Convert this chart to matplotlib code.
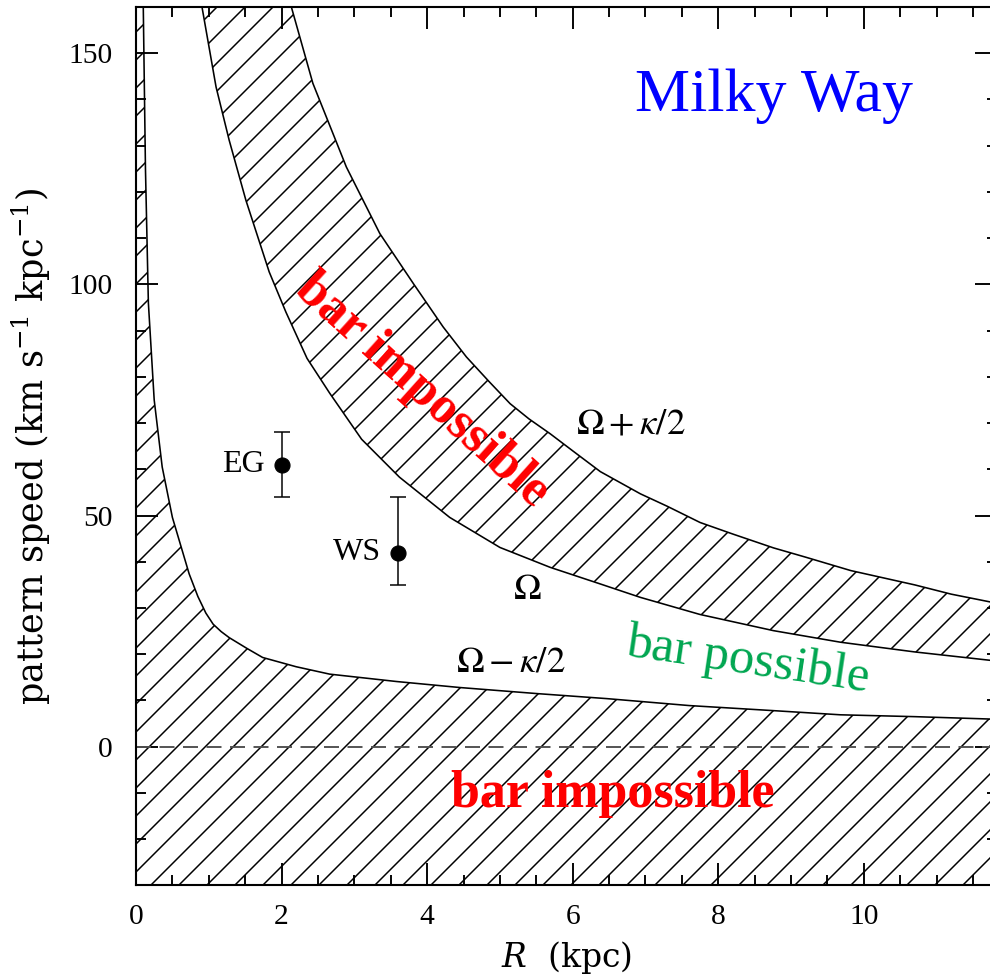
import numpy as np
import matplotlib.pyplot as plt
from matplotlib.ticker import MultipleLocator

dpi = 84


def px(v):
    # sizes below are given in pixels of the saved image
    return v * 72.0 / dpi


plt.rcParams['font.family'] = ['Liberation Serif', 'DejaVu Serif']
plt.rcParams['mathtext.fontset'] = 'stix'
plt.rcParams['hatch.linewidth'] = px(1.5)
plt.rcParams['lines.scale_dashes'] = False

# resonance curves, R in kpc, pattern speed in km/s/kpc
R_om = [0.86, 0.91, 1.10, 1.28, 1.51, 1.83, 2.06, 2.35, 2.66, 3.10, 3.62, 4.31,
        5.00, 5.69, 6.38, 6.93, 7.75, 8.76, 9.68, 10.70, 11.90]
om = [165.0, 159.7, 142.7, 131.2, 118.2, 102.7, 94.0, 84.0, 76.5, 66.5, 58.3, 49.6,
      43.1, 38.8, 35.2, 32.3, 28.6, 25.1, 22.6, 20.5, 18.4]

R_olr = [2.08, 2.14, 2.43, 2.89, 3.35, 3.81, 4.22, 4.54, 4.85, 5.14, 5.40, 5.69,
         6.00, 6.38, 6.93, 7.30, 7.75, 8.20, 8.76, 9.20, 9.82, 10.70, 11.20, 11.90]
om_olr = [165.0, 159.7, 143.5, 125.4, 111.0, 100.2, 90.8, 84.3, 79.0, 74.2, 70.9, 67.7,
          64.0, 59.5, 54.7, 52.0, 48.5, 46.0, 43.0, 41.0, 38.1, 35.0, 33.0, 30.8]

R_ilr = [0.09, 0.10, 0.13, 0.17, 0.25, 0.36, 0.50, 0.73, 0.85, 0.96, 1.06, 1.17,
         1.28, 1.52, 1.74, 2.20, 2.66, 3.58, 4.45, 5.50, 6.47, 7.60, 8.76, 9.68,
         10.70, 11.90]
om_ilr = [175.0, 160.0, 125.0, 96.0, 75.0, 60.5, 49.6, 37.4, 32.5, 28.9, 26.5, 24.9,
          23.6, 21.3, 19.3, 17.3, 15.7, 14.1, 12.8, 11.5, 10.4, 8.9, 7.8, 6.9,
          6.5, 5.9]

# measured pattern speeds
pts_name = ['EG', 'WS']
pts_R = [2.0, 3.6]
pts_om = [61.0, 42.0]
pts_lo = [7.0, 7.0]
pts_hi = [7.0, 12.0]

fig = plt.figure(figsize=(990 / dpi, 979 / dpi), dpi=dpi)
ax = fig.add_axes([136 / 990, 1 - 885.4 / 979, (997 - 136) / 990, (885.4 - 7) / 979])

# hatched band between Omega and Omega+kappa/2
band_x = R_om + R_olr[::-1]
band_y = om + om_olr[::-1]
ax.fill(band_x, band_y, facecolor='none', edgecolor='black', hatch='/', linewidth=0)

# hatched region below Omega-kappa/2
low_x = [-1.0] + R_ilr + [13.0, 13.0, -1.0]
low_y = [om_ilr[0]] + om_ilr + [om_ilr[-1], -60.0, -60.0]
ax.fill(low_x, low_y, facecolor='none', edgecolor='black', hatch='/', linewidth=0)

for rr, vv in [(R_om, om), (R_olr, om_olr), (R_ilr, om_ilr)]:
    ax.plot(rr, vv, color='black', lw=px(1.6))

ax.axhline(0, color='#505050', lw=px(1.9), dashes=(px(15), px(8.5)))

ax.errorbar(pts_R, pts_om, yerr=[pts_lo, pts_hi], fmt='o', color='black',
            ms=px(15), elinewidth=px(1.5), capsize=px(8), capthick=px(1.5))
for name, rr, vv in zip(pts_name, pts_R, pts_om):
    ax.annotate(name, (rr, vv), xytext=(px(-17), 0), textcoords='offset points',
                ha='right', va='center', fontsize=px(32))

lab = dict(fontsize=px(37), ha='center', va='center', math_fontfamily='stix')
ax.text(6.80, 69.8, r'$\Omega+\kappa/2$', **lab)
ax.text(5.37, 33.9, r'$\Omega$', **lab)
ax.text(5.15, 18.3, r'$\Omega-\kappa/2$', **lab)

ax.text(8.76, 137.5, 'Milky Way', color='#0000ff', fontsize=px(62),
        ha='center', va='baseline')
ax.text(6.55, -13.0, 'bar impossible', color='#ff0000', fontsize=px(52),
        fontweight='bold', ha='center', va='baseline')
ax.text(3.93, 77.0, 'bar impossible', color='#ff0000', fontsize=px(52),
        fontweight='bold', ha='center', va='center', rotation=-42,
        rotation_mode='anchor')
ax.text(8.4, 18.5, 'bar possible', color='#00a650', fontsize=px(51),
        ha='center', va='center', rotation=-8.5, rotation_mode='anchor')

ax.set_xlim(0, 11.83)
ax.set_ylim(-30, 160)
ax.xaxis.set_major_locator(MultipleLocator(2))
ax.xaxis.set_minor_locator(MultipleLocator(0.5))
ax.yaxis.set_major_locator(MultipleLocator(50))
ax.yaxis.set_minor_locator(MultipleLocator(10))
ax.tick_params(which='both', direction='in', top=True, right=True,
               labelsize=px(29.5), width=px(1.9))
ax.tick_params(which='major', length=px(22))
ax.tick_params(which='minor', length=px(10))
ax.tick_params(axis='x', pad=px(19))
ax.tick_params(axis='y', pad=px(23))
for sp in ax.spines.values():
    sp.set_linewidth(px(2.1))

ax.set_xlabel(r'$R$  (kpc)', fontsize=px(33), labelpad=px(9),
              family='DejaVu Serif', math_fontfamily='dejavuserif')
ax.set_ylabel(r'pattern speed (km s$^{-1}$ kpc$^{-1}$)', fontsize=px(35),
              labelpad=px(16), family='DejaVu Serif', math_fontfamily='dejavuserif')

fig.savefig('out.png', dpi=dpi)
